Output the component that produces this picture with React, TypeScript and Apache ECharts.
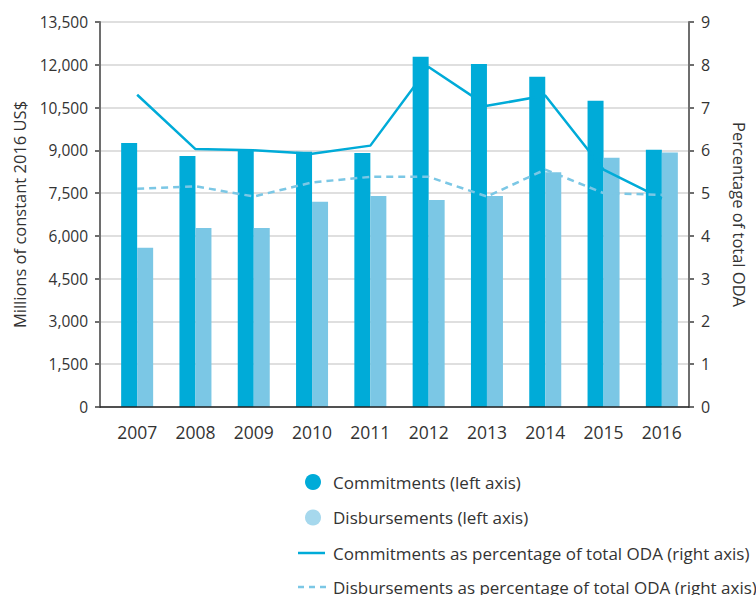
import React, { useEffect, useRef } from "react";
import * as echarts from "echarts";

const years = ["2007", "2008", "2009", "2010", "2011", "2012", "2013", "2014", "2015", "2016"];
const commitments = [9260, 8800, 9050, 8950, 8910, 12280, 12030, 11580, 10740, 9020];
const disbursements = [5580, 6280, 6280, 7200, 7400, 7260, 7400, 8230, 8740, 8920];
const commitmentsPct = [7.3, 6.03, 6.0, 5.92, 6.11, 7.95, 7.04, 7.28, 5.55, 4.87];
const disbursementsPct = [5.1, 5.16, 4.92, 5.25, 5.38, 5.38, 4.92, 5.55, 5.0, 4.96];
const legendLabels = [
  "Commitments (left axis)",
  "Disbursements (left axis)",
  "Commitments as percentage of total ODA (right axis)",
  "Disbursements as percentage of total ODA (right axis)",
];

const C_DARK = "#00abd8";
const C_LIGHT = "#7bc7e5";
const C_LEGEND_LIGHT = "#a6d8ed";
const FONT = "Open Sans";

export default function App() {
  const ref = useRef<HTMLDivElement>(null);
  useEffect(() => {
    if (!ref.current) return;
    const chart = echarts.init(ref.current, null, { renderer: "svg" });
    const rowY = [482, 517.5, 553, 587];
    const textX = 333;
    const legendGraphics: any[] = [
      { type: "circle", shape: { cx: 313, cy: rowY[0], r: 8 }, style: { fill: C_DARK } },
      { type: "circle", shape: { cx: 313, cy: rowY[1], r: 8 }, style: { fill: C_LEGEND_LIGHT } },
      {
        type: "line",
        shape: { x1: 298, y1: rowY[2], x2: 325, y2: rowY[2] },
        style: { stroke: C_DARK, lineWidth: 2.5 },
      },
      {
        type: "line",
        shape: { x1: 298, y1: rowY[3], x2: 326, y2: rowY[3] },
        style: { stroke: C_LIGHT, lineWidth: 2.5, lineDash: [6, 5] },
      },
      ...legendLabels.map((t, i) => ({
        type: "text",
        x: textX,
        y: rowY[i],
        style: {
          text: t,
          fill: "#333",
          fontSize: 17,
          fontFamily: FONT,
          verticalAlign: "middle",
          align: "left",
        },
      })),
    ];
    chart.setOption({
      animation: false,
      textStyle: { fontFamily: FONT },
      grid: [
        { left: 100, right: 57, top: 22, bottom: 188 },
        { left: 108, right: 65, top: 22, bottom: 188 },
      ],
      xAxis: [
        {
          type: "category",
          gridIndex: 0,
          data: years,
          axisLine: { show: true, lineStyle: { color: "#222", width: 1.5 } },
          axisTick: { show: false },
          axisLabel: { show: false },
          z: 5,
        },
        {
          type: "category",
          gridIndex: 1,
          data: years,
          axisLine: { show: false },
          axisTick: { show: false },
          axisLabel: { color: "#333", fontSize: 17.5, margin: 16, fontFamily: FONT },
        },
      ],
      yAxis: [
        {
          type: "value",
          gridIndex: 0,
          position: "left",
          min: 0,
          max: 13500,
          interval: 1500,
          name: "Millions of constant 2016 US$",
          nameLocation: "middle",
          nameGap: 72,
          nameTextStyle: { color: "#333", fontSize: 16.5, fontFamily: FONT },
          axisLine: { show: true, lineStyle: { color: "#6e6e6e", width: 2 } },
          axisTick: { show: true, length: 5, lineStyle: { color: "#6e6e6e", width: 2 } },
          axisLabel: {
            color: "#333",
            fontSize: 15.5,
            margin: 12,
            fontFamily: FONT,
            formatter: (v: number) => v.toLocaleString("en-US"),
          },
          splitLine: { show: true, lineStyle: { color: "#d4d4d4", width: 1.5 } },
        },
        {
          type: "value",
          gridIndex: 0,
          position: "right",
          min: 0,
          max: 9,
          interval: 1,
          name: "Percentage of total ODA",
          nameLocation: "middle",
          nameGap: 42,
          nameRotate: -90,
          nameTextStyle: { color: "#333", fontSize: 16.5, fontFamily: FONT },
          axisLine: { show: true, lineStyle: { color: "#6e6e6e", width: 2 } },
          axisTick: { show: true, length: 5, lineStyle: { color: "#6e6e6e", width: 2 } },
          axisLabel: { color: "#333", fontSize: 16, margin: 12, fontFamily: FONT },
          splitLine: { show: false },
        },
        { type: "value", gridIndex: 1, min: 0, max: 13500, interval: 1500, show: false },
        { type: "value", gridIndex: 1, min: 0, max: 9, interval: 1, show: false },
      ],
      graphic: legendGraphics,
      series: [
        {
          name: legendLabels[0],
          type: "bar",
          xAxisIndex: 1,
          yAxisIndex: 2,
          data: commitments,
          barWidth: 16,
          barGap: "0%",
          itemStyle: { color: C_DARK },
        },
        {
          name: legendLabels[1],
          type: "bar",
          xAxisIndex: 1,
          yAxisIndex: 2,
          data: disbursements,
          barWidth: 16,
          barGap: "0%",
          itemStyle: { color: C_LIGHT },
        },
        {
          name: legendLabels[2],
          type: "line",
          xAxisIndex: 1,
          yAxisIndex: 3,
          data: commitmentsPct,
          symbol: "none",
          lineStyle: { color: C_DARK, width: 2.5 },
          itemStyle: { color: C_DARK },
          z: 10,
        },
        {
          name: legendLabels[3],
          type: "line",
          xAxisIndex: 1,
          yAxisIndex: 3,
          data: disbursementsPct,
          symbol: "none",
          lineStyle: { color: C_LIGHT, width: 2.5, type: [7, 5] },
          itemStyle: { color: C_LIGHT },
          z: 10,
        },
      ],
    });
    return () => chart.dispose();
  }, []);
  return (
    <div
      ref={ref}
      style={{ position: "absolute", left: 0, top: 0, width: 756, height: 595 }}
    />
  );
}
